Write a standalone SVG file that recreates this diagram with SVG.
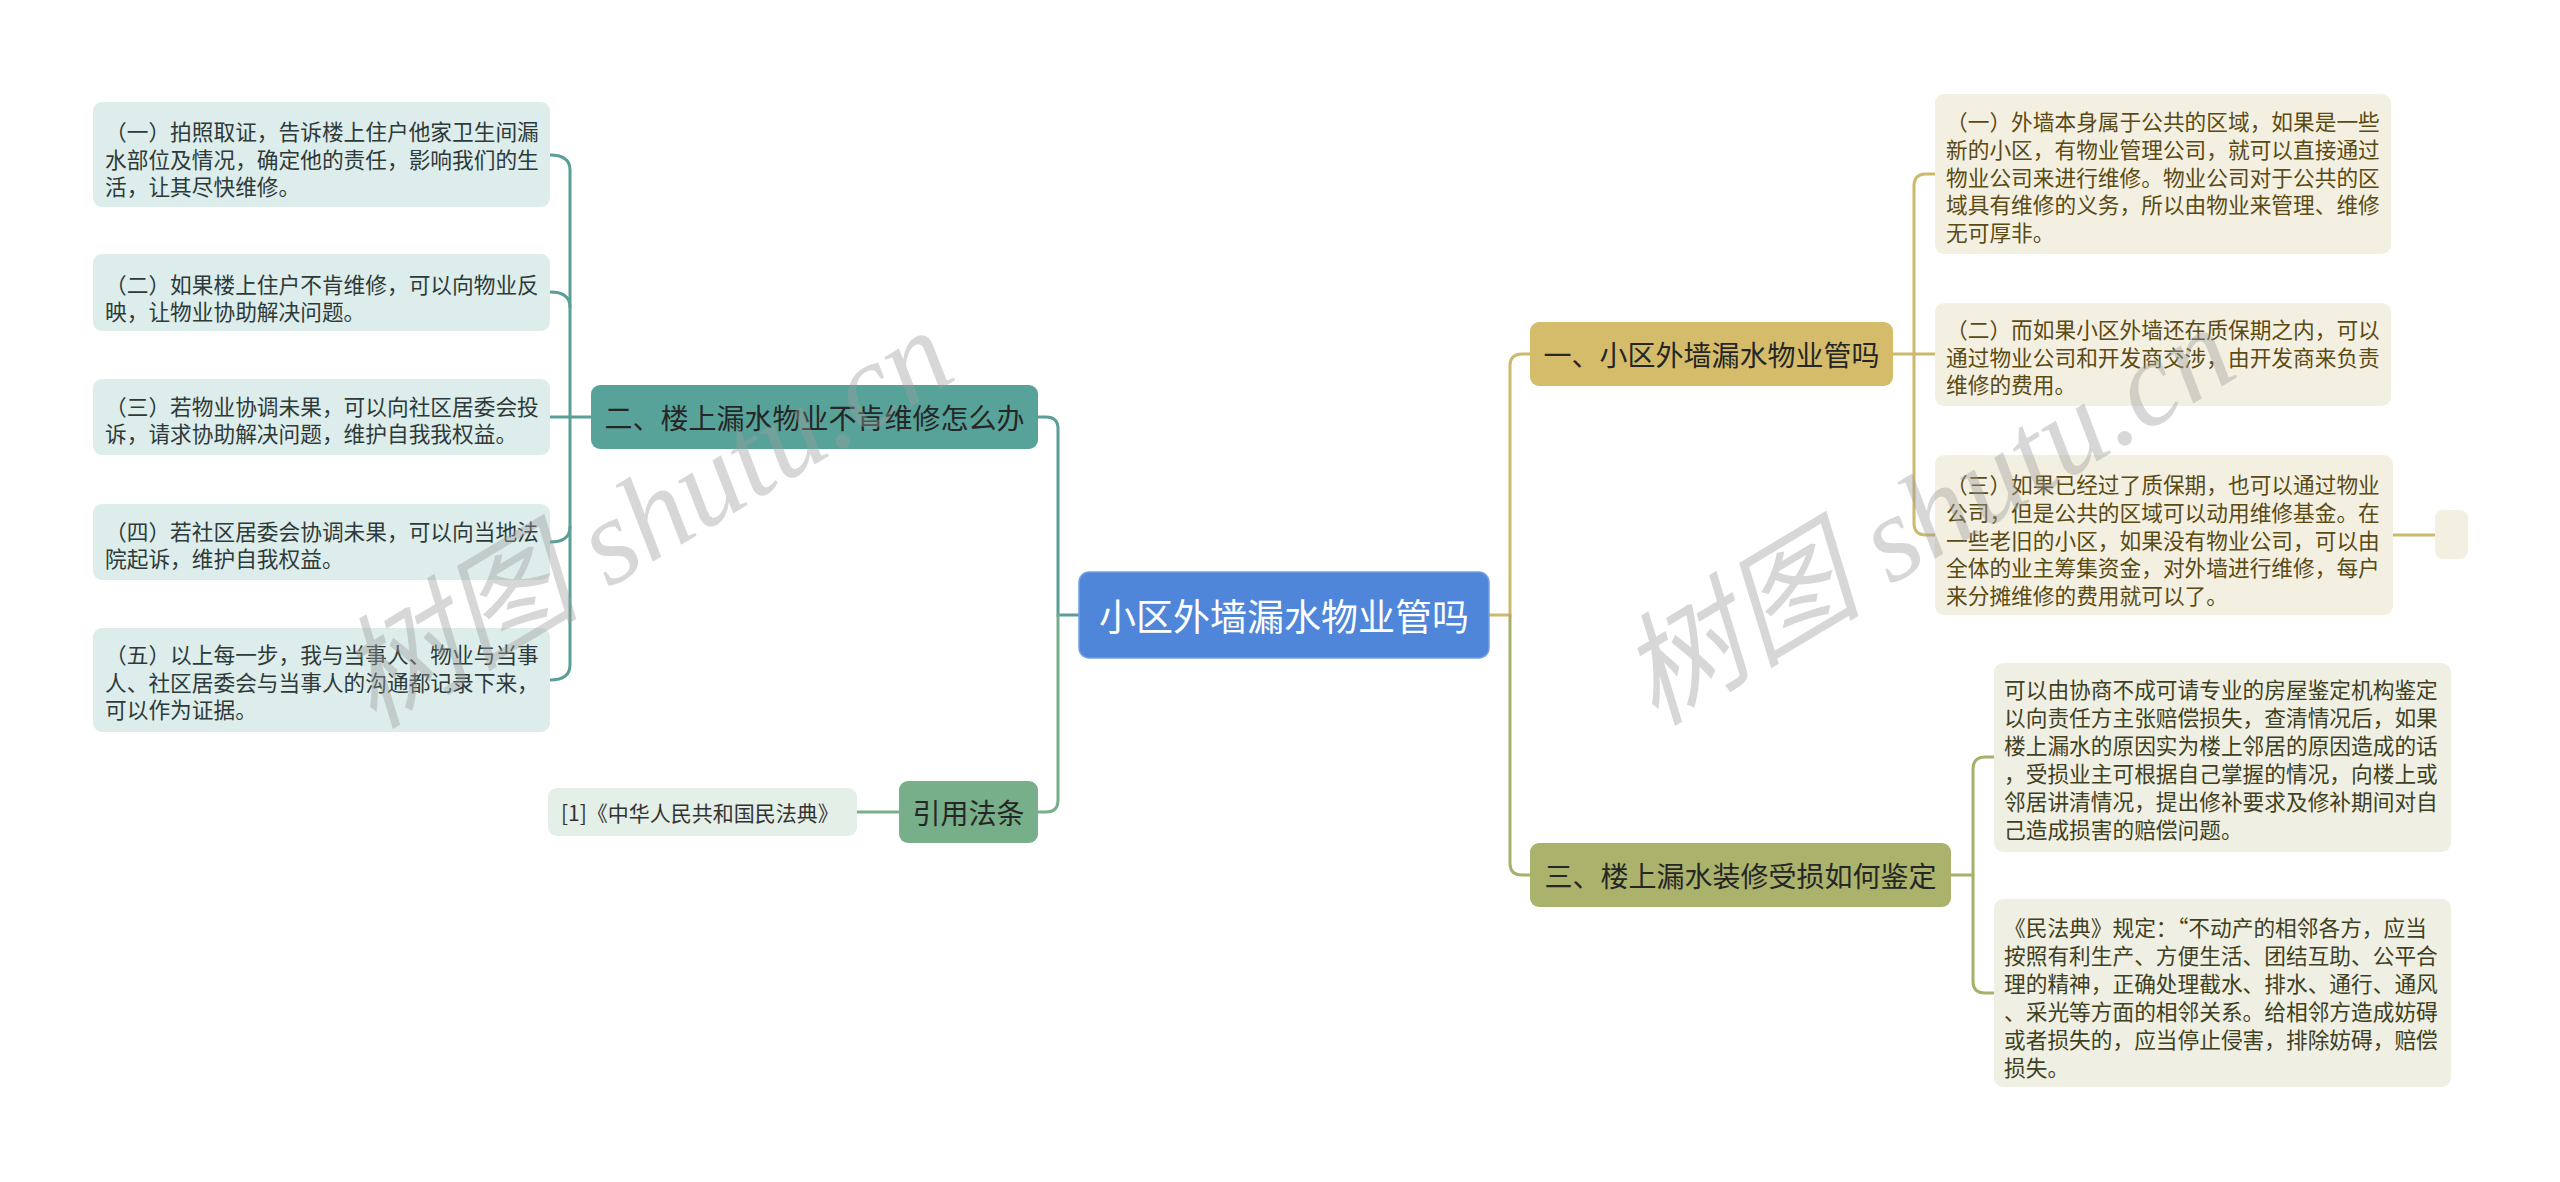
<svg xmlns="http://www.w3.org/2000/svg" width="2560" height="1182" viewBox="0 0 2560 1182">
<style>
text{font-family:"Noto Sans CJK SC","Noto Sans",sans-serif;dominant-baseline:central}
.c{fill:none;stroke-width:3;stroke-linecap:round}
.teal{stroke:#5A9E96}.green{stroke:#76AF8A}.gold{stroke:#CDB86B}.olive{stroke:#A7AF69}
.lc{fill:#DDEDEB}.gc{fill:#F4F0E1}.oc{fill:#EFF0E3}
.lt{font-size:21.7px;fill:#2E3A39}.gt{font-size:21.7px;fill:#5A4A14}.ot{font-size:21.7px;fill:#3F4022}
.bt{font-size:28px;fill:#262626;text-anchor:middle}
.wm{font-family:"Liberation Serif","Noto Sans CJK SC",serif;font-style:italic;font-size:122px;fill:#9a9a9a;fill-opacity:0.4;text-anchor:middle}
</style>
<rect width="2560" height="1182" fill="#FFFFFF"/>
<g id="connectors">
<path class="c teal" d="M1079,615 H1058 V429 Q1058,417 1046,417 H1038"/>
<path class="c green" d="M1058,615 V800 Q1058,812 1046,812 H1038"/>
<path class="c green" d="M899,812 H857"/>
<path class="c teal" d="M550,155 Q570,155 570,170 V665 Q570,680 550,680"/>
<path class="c teal" d="M550,292 Q570,292 570,307"/>
<path class="c teal" d="M550,417 H591"/>
<path class="c teal" d="M550,542 Q570,542 570,527"/>
<path class="c gold" d="M1489,615 H1510 V366 Q1510,354 1522,354 H1530"/>
<path class="c olive" d="M1510,615 V863 Q1510,875 1522,875 H1530"/>
<path class="c gold" d="M1893,354 H1935"/>
<path class="c gold" d="M1935,174 H1926 Q1914,174 1914,186 V523 Q1914,535 1926,535 H1935"/>
<path class="c gold" d="M2393,535 H2435"/>
<path class="c olive" d="M1951,875 H1973"/>
<path class="c olive" d="M1994,757 H1985 Q1973,757 1973,769 V981 Q1973,993 1985,993 H1994"/>
</g>
<g id="root">
<rect x="1079" y="572" width="410" height="86" rx="10" fill="#4F86DA" stroke="#74A0E4" stroke-width="1.5"/>
<text x="1284" y="615" style="font-size:37px;fill:#FFFFFF;text-anchor:middle">小区外墙漏水物业管吗</text>
</g>
<g id="b2">
<rect x="591" y="385" width="447" height="64" rx="9" fill="#58A399"/>
<text class="bt" x="814.5" y="417">二、楼上漏水物业不肯维修怎么办</text>
</g>
<g id="cite">
<rect x="899" y="781" width="139" height="62" rx="9" fill="#76AF8A"/>
<text class="bt" x="968.5" y="812">引用法条</text>
</g>
<g id="cite1">
<rect x="548" y="788" width="309" height="48" rx="9" fill="#E4EFE7"/>
<text x="561" y="812" style="font-size:21px;fill:#333">[1]《中华人民共和国民法典》</text>
</g>
<g id="l1">
<rect class="lc" x="93" y="102" width="457" height="105" rx="9"/>
<text class="lt"><tspan x="105" y="130">（一）拍照取证，告诉楼上住户他家卫生间漏</tspan><tspan x="105" y="157.5">水部位及情况，确定他的责任，影响我们的生</tspan><tspan x="105" y="185">活，让其尽快维修。</tspan></text>
</g>
<g id="l2">
<rect class="lc" x="93" y="254" width="457" height="77" rx="9"/>
<text class="lt"><tspan x="105" y="283">（二）如果楼上住户不肯维修，可以向物业反</tspan><tspan x="105" y="310">映，让物业协助解决问题。</tspan></text>
</g>
<g id="l3">
<rect class="lc" x="93" y="379" width="457" height="76" rx="9"/>
<text class="lt"><tspan x="105" y="405">（三）若物业协调未果，可以向社区居委会投</tspan><tspan x="105" y="432">诉，请求协助解决问题，维护自我我权益。</tspan></text>
</g>
<g id="l4">
<rect class="lc" x="93" y="504" width="457" height="76" rx="9"/>
<text class="lt"><tspan x="105" y="530">（四）若社区居委会协调未果，可以向当地法</tspan><tspan x="105" y="557">院起诉，维护自我权益。</tspan></text>
</g>
<g id="l5">
<rect class="lc" x="93" y="628" width="457" height="104" rx="9"/>
<text class="lt"><tspan x="105" y="653">（五）以上每一步，我与当事人、物业与当事</tspan><tspan x="105" y="681">人、社区居委会与当事人的沟通都记录下来，</tspan><tspan x="105" y="708">可以作为证据。</tspan></text>
</g>
<g id="b1">
<rect x="1530" y="322" width="363" height="64" rx="9" fill="#D5BC6B"/>
<text class="bt" x="1711.5" y="354">一、小区外墙漏水物业管吗</text>
</g>
<g id="r11">
<rect class="gc" x="1935" y="94" width="456" height="160" rx="9"/>
<text class="gt"><tspan x="1946" y="120">（一）外墙本身属于公共的区域，如果是一些</tspan><tspan x="1946" y="148">新的小区，有物业管理公司，就可以直接通过</tspan><tspan x="1946" y="176">物业公司来进行维修。物业公司对于公共的区</tspan><tspan x="1946" y="203">域具有维修的义务，所以由物业来管理、维修</tspan><tspan x="1946" y="231">无可厚非。</tspan></text>
</g>
<g id="r12">
<rect class="gc" x="1935" y="303" width="456" height="103" rx="9"/>
<text class="gt"><tspan x="1946" y="328">（二）而如果小区外墙还在质保期之内，可以</tspan><tspan x="1946" y="356">通过物业公司和开发商交涉，由开发商来负责</tspan><tspan x="1946" y="383">维修的费用。</tspan></text>
</g>
<g id="r13">
<rect class="gc" x="1935" y="455" width="458" height="160" rx="9"/>
<text class="gt"><tspan x="1946" y="483">（三）如果已经过了质保期，也可以通过物业</tspan><tspan x="1946" y="511">公司，但是公共的区域可以动用维修基金。在</tspan><tspan x="1946" y="539">一些老旧的小区，如果没有物业公司，可以由</tspan><tspan x="1946" y="566">全体的业主筹集资金，对外墙进行维修，每户</tspan><tspan x="1946" y="594">来分摊维修的费用就可以了。</tspan></text>
</g>
<g id="r13a">
<rect class="gc" x="2435" y="510" width="33" height="49" rx="8"/>
</g>
<g id="b3">
<rect x="1530" y="843" width="421" height="64" rx="9" fill="#ABB26C"/>
<text class="bt" x="1740.5" y="875">三、楼上漏水装修受损如何鉴定</text>
</g>
<g id="r31">
<rect class="oc" x="1994" y="663" width="457" height="189" rx="9"/>
<text class="ot"><tspan x="2004" y="688">可以由协商不成可请专业的房屋鉴定机构鉴定</tspan><tspan x="2004" y="716">以向责任方主张赔偿损失，查清情况后，如果</tspan><tspan x="2004" y="744">楼上漏水的原因实为楼上邻居的原因造成的话</tspan><tspan x="2004" y="772">，受损业主可根据自己掌握的情况，向楼上或</tspan><tspan x="2004" y="800">邻居讲清情况，提出修补要求及修补期间对自</tspan><tspan x="2004" y="828">己造成损害的赔偿问题。</tspan></text>
</g>
<g id="r32">
<rect class="oc" x="1994" y="899" width="457" height="188" rx="9"/>
<text class="ot"><tspan x="2004" y="926">《民法典》规定：“不动产的相邻各方，应当</tspan><tspan x="2004" y="954">按照有利生产、方便生活、团结互助、公平合</tspan><tspan x="2004" y="982">理的精神，正确处理截水、排水、通行、通风</tspan><tspan x="2004" y="1010">、采光等方面的相邻关系。给相邻方造成妨碍</tspan><tspan x="2004" y="1038">或者损失的，应当停止侵害，排除妨碍，赔偿</tspan><tspan x="2004" y="1066">损失。</tspan></text>
</g>
<g id="watermark">
<text class="wm" x="645" y="518" transform="rotate(-31 645 518)">树图 shutu.cn</text>
<text class="wm" x="1927" y="515" transform="rotate(-31 1927 515)">树图 shutu.cn</text>
</g>
</svg>
